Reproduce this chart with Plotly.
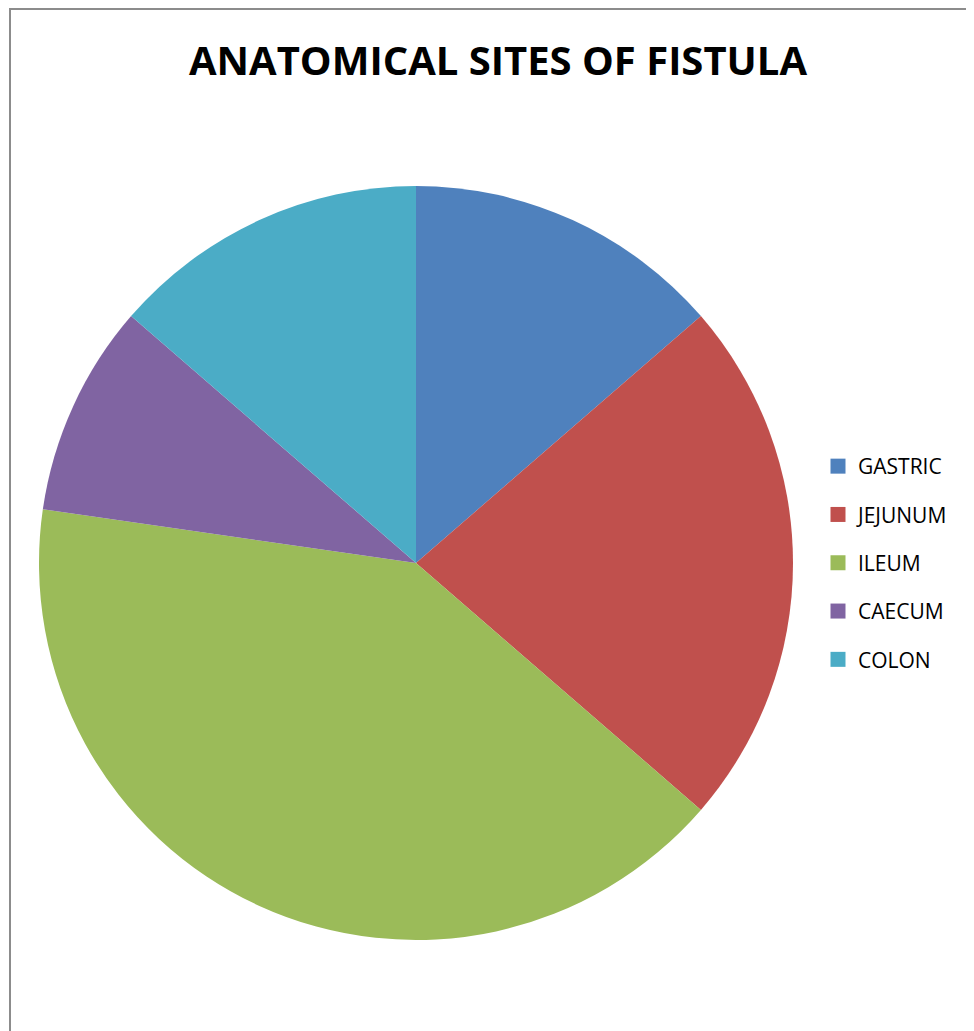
import plotly.graph_objects as go

sites = ['GASTRIC', 'JEJUNUM', 'ILEUM', 'CAECUM', 'COLON']
cases = [3, 5, 9, 2, 3]
colors = ['#4F81BD', '#C0504D', '#9BBB59', '#8064A2', '#4BACC6']

W, H = 974, 1031
OFF = 8  # page body margin shifts everything by this much

fig = go.Figure()
fig.add_trace(go.Pie(
    labels=sites,
    values=cases,
    sort=False,
    direction='clockwise',
    rotation=0,
    marker=dict(colors=colors, line=dict(width=0)),
    textinfo='none',
    showlegend=False,
    domain=dict(x=[(39 - OFF) / W, (793 - OFF) / W],
                y=[1 - (940 - OFF) / H, 1 - (186 - OFF) / H]),
))

# legend entries as separate groups so the spacing can match
for s, c in zip(sites, colors):
    fig.add_trace(go.Scatter(
        x=[None], y=[None], mode='markers', name=s, legendgroup=s,
        marker=dict(symbol='square', size=15, color=c),
    ))

fig.update_layout(
    width=W, height=H,
    margin=dict(l=0, r=0, t=0, b=0),
    paper_bgcolor='white', plot_bgcolor='white',
    xaxis=dict(visible=False), yaxis=dict(visible=False),
    title=dict(text='<b>ANATOMICAL SITES OF FISTULA</b>', x=(498 - OFF) / W, xanchor='center',
               y=1 - (61 - OFF) / H, yanchor='middle',
               font=dict(family='Open Sans', size=40, color='black')),
    legend=dict(x=(818 - OFF) / W, y=1 - (446 - OFF) / H, xanchor='left', yanchor='top',
                font=dict(family='Open Sans', size=21, color='black'),
                tracegroupgap=18, itemwidth=30, bgcolor='rgba(0,0,0,0)'),
    shapes=[dict(type='rect', xref='paper', yref='paper',
                 x0=(10 - OFF) / W, y0=-0.1, x1=1.1, y1=1 - 1 / H,
                 line=dict(color='#8c8c8c', width=2))],
)

fig.write_html('out.html')
